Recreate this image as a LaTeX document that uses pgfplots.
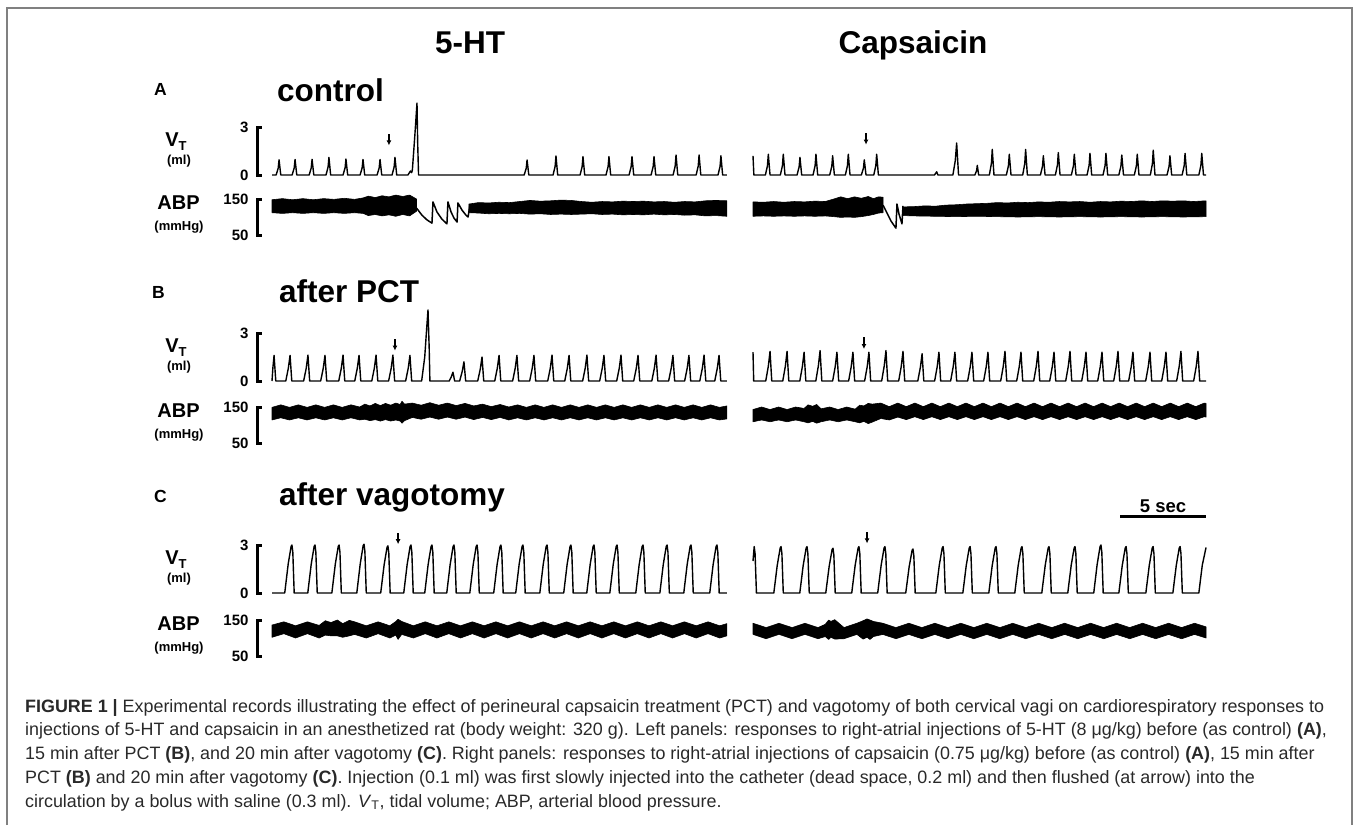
\documentclass[border=0pt]{standalone}
\usepackage{fontspec}
\setmainfont{Liberation Sans}
\usepackage{pgfplots}
\pgfplotsset{compat=1.18}
\usetikzlibrary{arrows.meta}
\definecolor{boxgray}{rgb}{0.50,0.50,0.50}
\definecolor{capgray}{rgb}{0.16,0.16,0.16}
\newcommand{\tickfont}{\fontsize{15}{15}\selectfont\bfseries}
\newcommand{\headfont}{\fontsize{31.5}{32}\selectfont\bfseries}
\newcommand{\letfont}{\fontsize{17.5}{18}\selectfont\bfseries}
\newcommand{\labfont}{\fontsize{20}{20}\selectfont\bfseries}
\newcommand{\unitfont}{\fontsize{13}{13}\selectfont\bfseries}
\newcommand{\capfont}{\fontsize{17.9}{21}\selectfont}
\pgfplotsset{
 basetr/.style={x=17.2pt, clip=false, anchor=south west, xtick=\empty, enlargelimits=false},
 panelL/.style={basetr, xmin=-0.872, xmax=26.45, axis x line=none, axis y line=left,
   axis line style={-, line width=3pt, line cap=rect, black},
   tick align=inside, major tick length=5pt, tick style={line width=3pt, black},
   yticklabel style={font=\tickfont, xshift=-5pt}},
 panelR/.style={basetr, xmin=0, xmax=26.34, hide axis},
 vtax/.style={y=16pt, ymin=0, ymax=3},
 abpax/.style={y=0.36pt, ymin=50, ymax=150},
 vtL/.style={panelL, vtax, ytick={0,3}, yticklabels={0,3}},
 abpL/.style={panelL, abpax, ytick={50,150}, yticklabels={50,150}},
 vtR/.style={panelR, vtax},
 abpR/.style={panelR, abpax},
 trace/.style={black, line width=1.4pt, line join=round, mark=none},
 band/.style={black, fill=black, line width=0.6pt, line join=round, mark=none},
 dip/.style={black, line width=1.5pt, line join=round, mark=none},
}
\tikzset{inj/.style={-{Latex[length=5pt,width=5pt]}, line width=1.3pt}}
\begin{document}
\begin{tikzpicture}
\path[use as bounding box] (0,0) rectangle (1357pt,-825pt);
\draw[boxgray, line width=2pt] (6.5pt,-825pt) -- (6.5pt,-8pt) -- (1351.5pt,-8pt) -- (1351.5pt,-825pt);

% headers
\node[anchor=base, font=\headfont, inner sep=0] at (470pt,-53.5pt) {5-HT};
\node[anchor=base, font=\headfont, inner sep=0] at (913pt,-53.5pt) {Capsaicin};
% panel letters and titles
\node[anchor=base west, font=\letfont, inner sep=0] at (154pt,-95pt) {A};
\node[anchor=base west, font=\headfont, inner sep=0] at (277pt,-101.5pt) {control};
\node[anchor=base west, font=\letfont, inner sep=0] at (152pt,-298pt) {B};
\node[anchor=base west, font=\headfont, inner sep=0] at (279pt,-302pt) {after PCT};
\node[anchor=base west, font=\letfont, inner sep=0] at (154pt,-502pt) {C};
\node[anchor=base west, font=\headfont, inner sep=0] at (279pt,-505pt) {after vagotomy};
% row labels
\foreach \vt/\ab in {127/199, 333/407, 545/620}{
  \node[anchor=base, inner sep=0] at (176pt,{-(\vt+19.5)*1pt}) {\labfont V\raisebox{-3.5pt}{\unitfont T}};
  \node[anchor=base, font=\unitfont, inner sep=0] at (179pt,{-(\vt+37)*1pt}) {(ml)};
  \node[anchor=base, font=\labfont, inner sep=0] at (178.5pt,{-(\ab+10.5)*1pt}) {ABP};
  \node[anchor=base, font=\unitfont, inner sep=0] at (179pt,{-(\ab+31.5)*1pt}) {(mmHg)};
}

%================ ROW A ================
\begin{axis}[vtL, at={(257pt,-175pt)}]
\addplot[trace] coordinates {
(0,0) (0.24,0) (0.36,0.43) (0.41,0.95) (0.51,0)
(1.17,0) (1.29,0.44) (1.34,0.97) (1.44,0)
(2.16,0) (2.28,0.44) (2.33,0.98) (2.43,0)
(3.14,0) (3.26,0.5) (3.31,1.1) (3.41,0)
(4.13,0) (4.25,0.45) (4.30,1.0) (4.40,0)
(5.12,0) (5.24,0.44) (5.29,0.97) (5.39,0)
(6.11,0) (6.23,0.44) (6.28,0.97) (6.38,0)
(6.98,0) (7.10,0.5) (7.15,1.1) (7.25,0)
(7.90,0) (8.05,0.25) (8.12,0.15) (8.16,0.3) (8.30,2.4) (8.43,4.5) (8.47,2.0) (8.52,0)
(14.66,0) (14.78,0.42) (14.83,0.94) (14.93,0)
(16.34,0) (16.46,0.54) (16.51,1.19) (16.61,0)
(17.91,0) (18.03,0.52) (18.08,1.15) (18.18,0)
(19.42,0) (19.54,0.52) (19.59,1.15) (19.69,0)
(20.76,0) (20.88,0.52) (20.93,1.15) (21.03,0)
(22.04,0) (22.16,0.52) (22.21,1.15) (22.31,0)
(23.32,0) (23.44,0.56) (23.49,1.25) (23.59,0)
(24.66,0) (24.78,0.56) (24.83,1.25) (24.93,0)
(25.93,0) (26.05,0.54) (26.10,1.2) (26.20,0) (26.45,0)
};
\draw[inj] (axis cs:6.80,2.55) -- (axis cs:6.80,1.85);
\end{axis}

\begin{axis}[abpL, at={(257pt,-235pt)}]
\addplot[band] coordinates {
(0,148) (0.6,151) (1.2,148) (1.8,151) (2.4,148) (3.0,151) (3.6,149) (4.2,152) (4.8,149) (5.3,153) (5.6,158) (6.0,154) (6.4,159) (6.8,156) (7.2,161) (7.6,157) (8.0,161) (8.4,150)
(8.4,116) (8.0,103) (7.6,107) (7.2,102) (6.8,106) (6.4,103) (6.0,107) (5.6,104) (5.3,110) (4.8,112) (4.2,110) (3.6,112) (3.0,110) (2.4,112) (1.8,110) (1.2,112) (0.6,110) (0,112)
} -- cycle;
\addplot[dip] coordinates {
(8.40,125) (8.72,105) (9.01,92) (9.30,83) (9.36,142) (9.59,114) (9.88,94) (10.17,81) (10.23,142) (10.41,114) (10.58,97) (10.76,86) (10.81,139) (11.05,119) (11.28,105) (11.40,100) (11.51,135)
};
\addplot[band] coordinates {
(11.45,136) (12.0,140) (12.6,139) (13.2,141) (13.8,140) (14.4,143) (15.0,146) (15.6,144) (16.2,145) (16.8,147) (17.4,146) (18.0,143) (18.6,141) (19.2,143) (19.8,142) (20.4,144) (21.0,143) (21.6,144) (22.2,142) (22.8,143) (23.4,141) (24.0,143) (24.6,142) (25.2,145) (25.8,146) (26.45,145)
(26.45,102) (25.8,104) (25.2,103) (24.6,106) (24.0,105) (23.4,107) (22.8,106) (22.2,108) (21.6,106) (21.0,107) (20.4,106) (19.8,108) (19.2,107) (18.6,109) (18.0,108) (17.4,107) (16.8,108) (16.2,107) (15.6,109) (15.0,108) (14.4,110) (13.8,109) (13.2,110) (12.6,109) (12.0,111) (11.45,112)
} -- cycle;
\end{axis}

\begin{axis}[vtR, at={(753pt,-175pt)}]
\addplot[trace] coordinates {
(0,1.2) (0.05,0)
(0.72,0) (0.84,0.58) (0.89,1.3) (0.99,0)
(1.59,0) (1.71,0.58) (1.76,1.3) (1.86,0)
(2.56,0) (2.68,0.5) (2.73,1.1) (2.83,0)
(3.49,0) (3.61,0.58) (3.66,1.3) (3.76,0)
(4.46,0) (4.58,0.54) (4.63,1.2) (4.73,0)
(5.37,0) (5.49,0.58) (5.54,1.3) (5.64,0)
(6.30,0) (6.42,0.43) (6.47,0.95) (6.57,0)
(7.02,0) (7.14,0.58) (7.19,1.3) (7.29,0)
(10.55,0) (10.68,0.2) (10.75,0)
(11.62,0) (11.76,0.9) (11.84,2.0) (11.95,0)
(12.90,0) (13.00,0.27) (13.04,0.6) (13.12,0)
(13.74,0) (13.86,0.72) (13.91,1.6) (14.01,0)
(14.73,0) (14.85,0.58) (14.90,1.3) (15.00,0)
(15.68,0) (15.80,0.72) (15.85,1.6) (15.95,0)
(16.71,0) (16.83,0.54) (16.88,1.2) (16.98,0)
(17.58,0) (17.70,0.63) (17.75,1.4) (17.85,0)
(18.51,0) (18.63,0.58) (18.68,1.3) (18.78,0)
(19.42,0) (19.54,0.6) (19.59,1.35) (19.69,0)
(20.35,0) (20.47,0.6) (20.52,1.35) (20.62,0)
(21.27,0) (21.39,0.56) (21.44,1.25) (21.54,0)
(22.17,0) (22.29,0.58) (22.34,1.3) (22.44,0)
(23.10,0) (23.22,0.7) (23.27,1.55) (23.37,0)
(24.07,0) (24.19,0.54) (24.24,1.2) (24.34,0)
(24.95,0) (25.07,0.6) (25.12,1.35) (25.22,0)
(25.92,0) (26.04,0.6) (26.09,1.35) (26.19,0) (26.34,0)
};
\draw[inj] (axis cs:6.57,2.6) -- (axis cs:6.57,1.9);
\end{axis}

\begin{axis}[abpR, at={(753pt,-235pt)}]
\addplot[band] coordinates {
(0,142) (0.6,141) (1.2,143) (1.8,141) (2.4,143) (3.0,142) (3.6,144) (4.2,143) (4.7,150) (5.1,156) (5.5,151) (5.9,156) (6.3,152) (6.7,157) (7.0,151) (7.3,156) (7.56,155)
(7.56,112) (7.3,111) (7.0,107) (6.7,104) (6.3,101) (5.9,99) (5.5,100) (5.1,99) (4.7,101) (4.2,103) (3.6,102) (3.0,103) (2.4,102) (1.8,103) (1.2,102) (0.6,103) (0,102)
} -- cycle;
\addplot[dip] coordinates {
(7.56,133) (7.79,111) (8.02,89) (8.31,69) (8.37,136) (8.49,108) (8.66,81) (8.72,131)
};
\addplot[band] coordinates {
(8.72,128) (9.4,129) (10.0,131) (10.6,130) (11.2,133) (11.8,134) (12.4,136) (13.0,137) (13.6,138) (14.2,140) (14.8,139) (15.4,141) (16.0,140) (16.6,142) (17.2,141) (17.8,143) (18.4,142) (19.0,143) (19.6,141) (20.2,143) (20.8,142) (21.4,144) (22.0,143) (22.6,145) (23.2,143) (23.8,145) (24.4,144) (25.0,145) (25.6,143) (26.34,145)
(26.34,101) (25.0,100) (23.8,101) (22.6,100) (21.4,101) (20.2,100) (19.0,101) (17.8,100) (16.6,101) (15.4,100) (14.2,101) (13.0,102) (11.8,101) (10.6,102) (9.4,103) (8.72,104)
} -- cycle;
\end{axis}

%================ ROW B ================
\begin{axis}[vtL, at={(257pt,-381pt)}]
\addplot[trace] coordinates {
(0,0) (0.05,0.8) (0.12,1.6) (0.22,0)
(0.80,0) (0.95,0.8) (1.05,1.6) (1.15,0)
(1.84,0) (1.99,0.8) (2.09,1.62) (2.19,0)
(2.83,0) (2.98,0.8) (3.08,1.6) (3.18,0)
(3.88,0) (4.03,0.8) (4.13,1.62) (4.23,0)
(4.81,0) (4.96,0.8) (5.06,1.6) (5.16,0)
(5.80,0) (5.95,0.8) (6.05,1.62) (6.15,0)
(6.78,0) (6.93,0.8) (7.03,1.62) (7.13,0)
(7.77,0) (7.92,0.8) (8.02,1.6) (8.12,0)
(8.70,0) (8.88,1.5) (9.00,3.4) (9.07,4.44) (9.14,2.0) (9.18,0)
(10.30,0) (10.42,0.25) (10.52,0.55) (10.62,0)
(10.91,0) (11.06,0.6) (11.16,1.2) (11.26,0)
(11.96,0) (12.11,0.75) (12.21,1.5) (12.31,0)
(12.95,0) (13.10,0.8) (13.20,1.6) (13.30,0)
(13.99,0) (14.14,0.8) (14.24,1.6) (14.34,0)
(14.98,0) (15.13,0.8) (15.23,1.6) (15.33,0)
(16.03,0) (16.18,0.8) (16.28,1.62) (16.38,0)
(17.02,0) (17.17,0.8) (17.27,1.6) (17.37,0)
(18.06,0) (18.21,0.8) (18.31,1.62) (18.41,0)
(19.05,0) (19.20,0.8) (19.30,1.6) (19.40,0)
(20.04,0) (20.19,0.8) (20.29,1.62) (20.39,0)
(21.03,0) (21.18,0.8) (21.28,1.6) (21.38,0)
(22.08,0) (22.23,0.8) (22.33,1.62) (22.43,0)
(23.06,0) (23.21,0.8) (23.31,1.6) (23.41,0)
(23.99,0) (24.14,0.8) (24.24,1.6) (24.34,0)
(24.87,0) (25.02,0.8) (25.12,1.62) (25.22,0)
(25.74,0) (25.89,0.8) (25.99,1.6) (26.09,0) (26.45,0)
};
\draw[inj] (axis cs:7.15,2.6) -- (axis cs:7.15,1.9);
\end{axis}

\begin{axis}[abpL, at={(257pt,-443pt)}]
\addplot[band] coordinates {
(0,149) (0.51,156) (1.02,149) (1.53,156) (2.04,149) (2.55,156) (3.06,149) (3.57,156) (4.08,149) (4.59,156) (5.10,150) (5.40,158) (5.70,153) (6.00,160) (6.30,154) (6.60,160) (6.90,155) (7.20,161) (7.45,157) (7.56,166) (7.70,158) (8.16,161) (8.67,155) (9.18,162) (9.69,155) (10.20,161) (10.71,154) (11.22,160) (11.73,153) (12.24,158) (12.75,151) (13.26,157) (13.77,150) (14.28,156) (14.79,149) (15.30,156) (15.81,149) (16.32,156) (16.83,149) (17.34,156) (17.85,149) (18.36,156) (18.87,149) (19.38,156) (19.89,149) (20.40,156) (20.91,149) (21.42,156) (21.93,149) (22.44,156) (22.95,149) (23.46,156) (23.97,149) (24.48,156) (24.99,149) (25.50,156) (26.01,149) (26.45,153)
(26.45,117) (26.01,114) (25.50,120) (24.99,114) (24.48,120) (23.97,114) (23.46,120) (22.95,114) (22.44,120) (21.93,114) (21.42,120) (20.91,114) (20.40,120) (19.89,114) (19.38,120) (18.87,114) (18.36,120) (17.85,114) (17.34,120) (16.83,114) (16.32,120) (15.81,114) (15.30,120) (14.79,114) (14.28,120) (13.77,114) (13.26,121) (12.75,115) (12.24,121) (11.73,115) (11.22,122) (10.71,116) (10.20,122) (9.69,116) (9.18,122) (8.67,116) (8.16,121) (7.70,112) (7.56,105) (7.45,111) (7.20,114) (6.90,111) (6.60,115) (6.30,111) (6.00,115) (5.70,112) (5.40,116) (5.10,114) (4.59,120) (4.08,114) (3.57,120) (3.06,114) (2.55,120) (2.04,114) (1.53,120) (1.02,114) (0.51,120) (0,114)
} -- cycle;
\end{axis}

\begin{axis}[vtR, at={(753pt,-381pt)}]
\addplot[trace] coordinates {
(0,1.8) (0.04,0)
(0.74,0) (0.89,0.92) (0.99,1.85) (1.09,0)
(1.73,0) (1.88,0.92) (1.98,1.85) (2.08,0)
(2.72,0) (2.87,0.9) (2.97,1.8) (3.07,0)
(3.65,0) (3.80,0.95) (3.90,1.9) (4.00,0)
(4.63,0) (4.78,0.9) (4.88,1.8) (4.98,0)
(5.56,0) (5.71,0.9) (5.81,1.8) (5.91,0)
(6.49,0) (6.64,0.9) (6.74,1.8) (6.84,0)
(7.48,0) (7.63,0.95) (7.73,1.9) (7.83,0)
(8.47,0) (8.62,0.92) (8.72,1.85) (8.82,0)
(9.58,0) (9.73,0.85) (9.83,1.7) (9.93,0)
(10.56,0) (10.71,0.9) (10.81,1.8) (10.91,0)
(11.49,0) (11.64,0.9) (11.74,1.8) (11.84,0)
(12.48,0) (12.63,0.9) (12.73,1.8) (12.83,0)
(13.41,0) (13.56,0.9) (13.66,1.8) (13.76,0)
(14.40,0) (14.55,0.92) (14.65,1.85) (14.75,0)
(15.33,0) (15.48,0.9) (15.58,1.8) (15.68,0)
(16.32,0) (16.47,0.92) (16.57,1.85) (16.67,0)
(17.25,0) (17.40,0.9) (17.50,1.8) (17.60,0)
(18.18,0) (18.33,0.92) (18.43,1.85) (18.53,0)
(19.11,0) (19.26,0.9) (19.36,1.8) (19.46,0)
(20.04,0) (20.19,0.9) (20.29,1.8) (20.39,0)
(20.97,0) (21.12,0.92) (21.22,1.85) (21.32,0)
(21.84,0) (21.99,0.9) (22.09,1.8) (22.19,0)
(22.83,0) (22.98,0.9) (23.08,1.8) (23.18,0)
(23.76,0) (23.91,0.9) (24.01,1.8) (24.11,0)
(24.63,0) (24.78,0.92) (24.88,1.85) (24.98,0)
(25.62,0) (25.77,0.92) (25.87,1.85) (25.97,0) (26.34,0)
};
\draw[inj] (axis cs:6.45,2.75) -- (axis cs:6.45,2.0);
\end{axis}

\begin{axis}[abpR, at={(753pt,-443pt)}]
\addplot[band] coordinates {
(0,143) (0.50,150) (0.99,143) (1.49,150) (1.98,143) (2.48,150) (2.97,146) (3.20,156) (3.47,152) (3.70,157) (3.96,145) (4.46,150) (4.95,143) (5.45,150) (5.94,144) (6.20,155) (6.44,153) (6.70,160) (6.93,158) (7.43,161) (7.92,151) (8.42,161) (8.91,151) (9.41,161) (9.90,151) (10.40,161) (10.89,151) (11.39,161) (11.88,151) (12.38,161) (12.87,151) (13.37,161) (13.86,151) (14.36,161) (14.85,151) (15.35,161) (15.84,151) (16.34,161) (16.83,151) (17.33,161) (17.82,151) (18.32,161) (18.81,151) (19.31,161) (19.80,151) (20.30,161) (20.79,151) (21.29,161) (21.78,151) (22.28,161) (22.77,151) (23.27,161) (23.76,151) (24.26,161) (24.75,151) (25.25,161) (25.74,151) (26.24,161) (26.34,160)
(26.34,122) (26.24,123) (25.74,115) (25.25,123) (24.75,115) (24.26,123) (23.76,115) (23.27,123) (22.77,115) (22.28,123) (21.78,115) (21.29,123) (20.79,115) (20.30,123) (19.80,115) (19.31,123) (18.81,115) (18.32,123) (17.82,115) (17.33,123) (16.83,115) (16.34,123) (15.84,115) (15.35,123) (14.85,115) (14.36,123) (13.86,115) (13.37,123) (12.87,115) (12.38,123) (11.88,115) (11.39,123) (10.89,115) (10.40,123) (9.90,115) (9.41,123) (8.91,115) (8.42,122) (7.92,114) (7.43,118) (6.93,108) (6.70,104) (6.44,110) (6.20,106) (5.94,109) (5.45,114) (4.95,109) (4.46,114) (3.96,109) (3.70,105) (3.47,110) (3.20,106) (2.97,109) (2.48,114) (1.98,109) (1.49,114) (0.99,109) (0.50,114) (0,109)
} -- cycle;
\end{axis}

%================ ROW C ================
\begin{axis}[vtL, at={(257pt,-593pt)}]
\addplot[trace] coordinates {
(0,0)
(0.74,0) (0.94,1.8) (1.11,2.91) (1.16,3.0) (1.21,2.55) (1.29,0)
(2.08,0) (2.28,1.8) (2.45,2.91) (2.50,3.0) (2.55,2.55) (2.63,0)
(3.48,0) (3.68,1.8) (3.85,2.91) (3.90,3.0) (3.95,2.55) (4.03,0)
(4.93,0) (5.13,1.83) (5.30,2.96) (5.35,3.05) (5.40,2.6) (5.48,0)
(6.32,0) (6.52,1.77) (6.69,2.86) (6.74,2.95) (6.79,2.5) (6.87,0)
(7.66,0) (7.86,1.8) (8.03,2.91) (8.08,3.0) (8.13,2.55) (8.21,0)
(8.88,0) (9.08,1.8) (9.25,2.91) (9.30,3.0) (9.35,2.55) (9.43,0)
(10.16,0) (10.36,1.8) (10.53,2.91) (10.58,3.0) (10.63,2.55) (10.71,0)
(11.50,0) (11.70,1.8) (11.87,2.91) (11.92,3.0) (11.97,2.55) (12.05,0)
(12.89,0) (13.09,1.8) (13.26,2.91) (13.31,3.0) (13.36,2.55) (13.44,0)
(14.17,0) (14.37,1.8) (14.54,2.91) (14.59,3.0) (14.64,2.55) (14.72,0)
(15.57,0) (15.77,1.8) (15.94,2.91) (15.99,3.0) (16.04,2.55) (16.12,0)
(16.96,0) (17.16,1.8) (17.33,2.91) (17.38,3.0) (17.43,2.55) (17.51,0)
(18.30,0) (18.50,1.8) (18.67,2.91) (18.72,3.0) (18.77,2.55) (18.85,0)
(19.64,0) (19.84,1.8) (20.01,2.91) (20.06,3.0) (20.11,2.55) (20.19,0)
(21.15,0) (21.35,1.8) (21.52,2.91) (21.57,3.0) (21.62,2.55) (21.70,0)
(22.55,0) (22.75,1.8) (22.92,2.91) (22.97,3.0) (23.02,2.55) (23.10,0)
(23.94,0) (24.14,1.8) (24.31,2.91) (24.36,3.0) (24.41,2.55) (24.49,0)
(25.45,0) (25.65,1.8) (25.82,2.91) (25.87,3.0) (25.92,2.55) (26.00,0) (26.45,0)
};
\draw[inj] (axis cs:7.33,3.75) -- (axis cs:7.33,3.05);
\end{axis}

\begin{axis}[abpL, at={(257pt,-656pt)}]
\addplot[band] coordinates {
(0,136) (0.69,145) (1.37,134) (2.06,145) (2.74,135) (3.10,148) (3.43,143) (3.80,150) (4.11,140) (4.50,149) (4.80,145) (5.48,134) (6.17,145) (6.85,134) (7.20,146) (7.33,152) (7.54,146) (8.22,134) (8.91,145) (9.59,134) (10.28,145) (10.96,134) (11.65,145) (12.33,134) (13.02,145) (13.70,134) (14.39,145) (15.07,134) (15.76,145) (16.44,134) (17.13,145) (17.81,134) (18.50,145) (19.18,134) (19.87,145) (20.55,134) (21.24,145) (21.92,134) (22.61,145) (23.29,134) (23.98,145) (24.66,134) (25.35,145) (26.03,134) (26.45,140)
(26.45,106) (26.03,100) (25.35,112) (24.66,100) (23.98,112) (23.29,100) (22.61,112) (21.92,100) (21.24,112) (20.55,100) (19.87,112) (19.18,100) (18.50,112) (17.81,100) (17.13,112) (16.44,100) (15.76,112) (15.07,100) (14.39,112) (13.70,100) (13.02,112) (12.33,100) (11.65,112) (10.96,100) (10.28,112) (9.59,100) (8.91,112) (8.22,100) (7.54,110) (7.33,96) (7.20,108) (6.85,100) (6.17,112) (5.48,100) (4.80,110) (4.50,106) (4.11,102) (3.80,106) (3.43,106) (3.10,108) (2.74,100) (2.06,112) (1.37,100) (0.69,112) (0,102)
} -- cycle;
\end{axis}

\begin{axis}[vtR, at={(753pt,-593pt)}]
\addplot[trace] coordinates {
(0,2.0) (0.07,2.9) (0.12,2.47) (0.20,0)
(1.21,0) (1.41,1.74) (1.58,2.81) (1.63,2.9) (1.68,2.47) (1.76,0)
(2.72,0) (2.92,1.74) (3.09,2.81) (3.14,2.9) (3.19,2.47) (3.27,0)
(4.23,0) (4.43,1.68) (4.60,2.72) (4.65,2.8) (4.70,2.38) (4.78,0)
(5.74,0) (5.94,1.74) (6.11,2.81) (6.16,2.9) (6.21,2.47) (6.29,0)
(7.25,0) (7.45,1.74) (7.62,2.81) (7.67,2.9) (7.72,2.47) (7.80,0)
(8.88,0) (9.08,1.65) (9.25,2.67) (9.30,2.75) (9.35,2.34) (9.43,0)
(10.63,0) (10.83,1.74) (11.00,2.81) (11.05,2.9) (11.10,2.47) (11.18,0)
(12.20,0) (12.40,1.74) (12.57,2.81) (12.62,2.9) (12.67,2.47) (12.75,0)
(13.71,0) (13.91,1.74) (14.08,2.81) (14.13,2.9) (14.18,2.47) (14.26,0)
(15.22,0) (15.42,1.74) (15.59,2.81) (15.64,2.9) (15.69,2.47) (15.77,0)
(16.79,0) (16.99,1.74) (17.16,2.81) (17.21,2.9) (17.26,2.47) (17.34,0)
(18.30,0) (18.50,1.74) (18.67,2.81) (18.72,2.9) (18.77,2.47) (18.85,0)
(19.81,0) (20.01,1.8) (20.18,2.91) (20.23,3.0) (20.28,2.55) (20.36,0)
(21.27,0) (21.47,1.74) (21.64,2.81) (21.69,2.9) (21.74,2.47) (21.82,0)
(22.84,0) (23.04,1.74) (23.21,2.81) (23.26,2.9) (23.31,2.47) (23.39,0)
(24.41,0) (24.61,1.74) (24.78,2.81) (24.83,2.9) (24.88,2.47) (24.96,0)
(25.92,0) (26.12,1.74) (26.34,2.85)
};
\draw[inj] (axis cs:6.63,3.8) -- (axis cs:6.63,3.1);
\draw[line width=3pt] (axis cs:21.34,4.81) -- (axis cs:26.34,4.81);
\node[anchor=base, font=\fontsize{18.5}{19}\selectfont\bfseries, inner sep=0] at (axis cs:23.84,5.06) {5 sec};
\end{axis}

\begin{axis}[abpR, at={(753pt,-656pt)}]
\addplot[band] coordinates {
(0,141) (0.76,129) (1.51,141) (2.27,129) (3.02,141) (3.78,129) (4.20,138) (4.40,150) (4.53,146) (4.75,151) (5.29,129) (6.04,141) (6.40,148) (6.63,153) (6.80,150) (7.00,146) (7.55,141) (8.31,129) (9.06,141) (9.82,129) (10.57,141) (11.33,129) (12.08,141) (12.84,129) (13.59,141) (14.35,129) (15.10,141) (15.86,129) (16.61,141) (17.37,129) (18.12,141) (18.88,129) (19.63,141) (20.39,129) (21.14,141) (21.90,129) (22.65,141) (23.41,129) (24.16,141) (24.92,129) (25.67,141) (26.34,131)
(26.34,100) (25.67,110) (24.92,98) (24.16,110) (23.41,98) (22.65,110) (21.90,98) (21.14,110) (20.39,98) (19.63,110) (18.88,98) (18.12,110) (17.37,98) (16.61,110) (15.86,98) (15.10,110) (14.35,98) (13.59,110) (12.84,98) (12.08,110) (11.33,98) (10.57,110) (9.82,98) (9.06,110) (8.31,98) (7.55,110) (7.00,104) (6.80,96) (6.63,102) (6.40,97) (6.04,110) (5.29,98) (4.75,97) (4.53,102) (4.40,96) (4.20,104) (3.78,98) (3.02,110) (2.27,98) (1.51,110) (0.76,98) (0,110)
} -- cycle;
\end{axis}

% caption
\begin{scope}[every node/.style={anchor=base west, font=\capfont, text=capgray, inner sep=0}]
\node at (25pt,-712pt) {\textbf{FIGURE 1 |} Experimental records illustrating the effect of perineural capsaicin treatment (PCT) and vagotomy of both cervical vagi on cardiorespiratory responses to};
\node at (25pt,-735.75pt) {injections of 5-HT and capsaicin in an anesthetized rat (body weight: 320 g). Left panels: responses to right-atrial injections of 5-HT (8 μg/kg) before (as control) \textbf{(A)},};
\node at (25pt,-759.5pt) {15 min after PCT \textbf{(B)}, and 20 min after vagotomy \textbf{(C)}. Right panels: responses to right-atrial injections of capsaicin (0.75 μg/kg) before (as control) \textbf{(A)}, 15 min after};
\node at (25pt,-783.25pt) {PCT \textbf{(B)} and 20 min after vagotomy \textbf{(C)}. Injection (0.1 ml) was first slowly injected into the catheter (dead space, 0.2 ml) and then flushed (at arrow) into the};
\node at (25pt,-807pt) {circulation by a bolus with saline (0.3 ml). \textit{V}\textsubscript{T}, tidal volume; ABP, arterial blood pressure.};
\end{scope}
\end{tikzpicture}
\end{document}
